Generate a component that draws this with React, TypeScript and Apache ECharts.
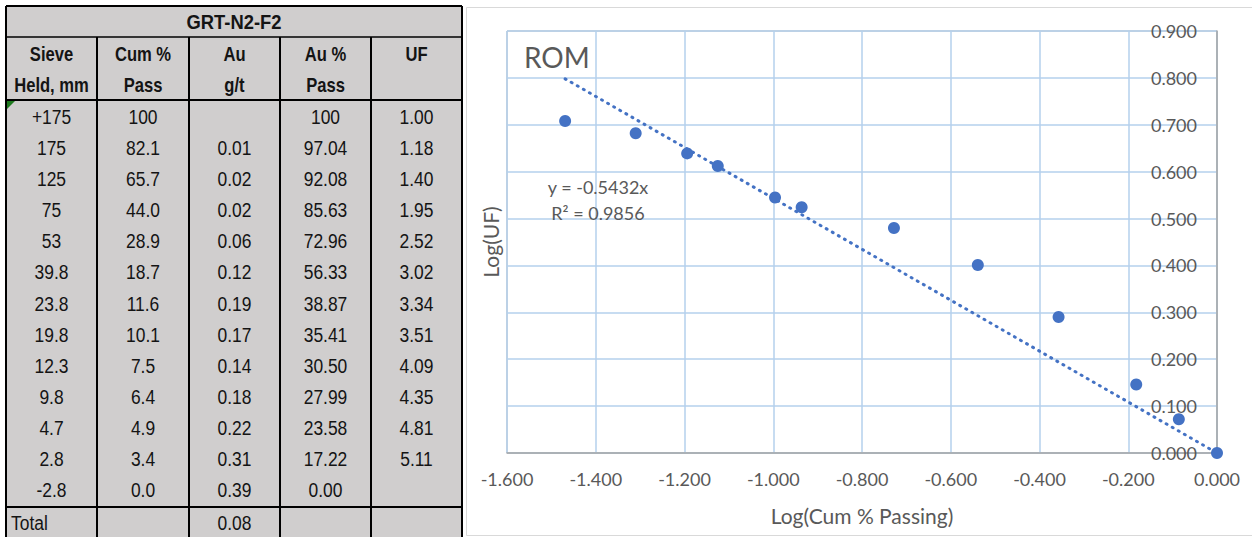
import React, { useEffect, useRef } from "react";
import * as echarts from "echarts";

// ---------- Table data (GRT-N2-F2) ----------
const tableTitle = "GRT-N2-F2";
const headerTop = ["Sieve", "Cum %", "Au", "Au %", "UF"];
const headerBottom = ["Held, mm", "Pass", "g/t", "Pass", ""];
const sieveHeld = ["+175", "175", "125", "75", "53", "39.8", "23.8", "19.8", "12.3", "9.8", "4.7", "2.8", "-2.8"];
const cumPass = ["100", "82.1", "65.7", "44.0", "28.9", "18.7", "11.6", "10.1", "7.5", "6.4", "4.9", "3.4", "0.0"];
const auGrade = ["", "0.01", "0.02", "0.02", "0.06", "0.12", "0.19", "0.17", "0.14", "0.18", "0.22", "0.31", "0.39"];
const auPass = ["100", "97.04", "92.08", "85.63", "72.96", "56.33", "38.87", "35.41", "30.50", "27.99", "23.58", "17.22", "0.00"];
const ufValues = ["1.00", "1.18", "1.40", "1.95", "2.52", "3.02", "3.34", "3.51", "4.09", "4.35", "4.81", "5.11", ""];
const totalLabel = "Total";
const totalAu = "0.08";

// ---------- Chart data (ROM) ----------
const logCumPassing = [0.0, -0.086, -0.182, -0.357, -0.539, -0.728, -0.936, -0.996, -1.125, -1.194, -1.310, -1.469];
const logUF = [0.0, 0.072, 0.146, 0.290, 0.401, 0.480, 0.524, 0.545, 0.612, 0.639, 0.682, 0.708];
const trendX = [-1.469, 0.0];
const trendY = [0.798, 0.0];
const chartTitle = "ROM";
const equationText = "y = -0.5432x";
const r2Text = "R² = 0.9856";
const xAxisTitle = "Log(Cum % Passing)";
const yAxisTitle = "Log(UF)";

const TABLE_FONT = "'Liberation Sans', Arial, sans-serif";
const CHART_FONT = "Lato, 'Open Sans', 'Liberation Sans', sans-serif";

function buildTable(): any[] {
  const els: any[] = [];
  const colX = [6, 97, 189, 280, 371, 462];
  const top = 6;
  const titleBottom = 37;
  const headerBottomY = 100;
  const rowStart = 101;
  const rowH = 31.15;
  const totalTop = 507;
  const bottom = 540;
  const txt = "#141414";
  const sx = 0.83;

  els.push({ type: "rect", shape: { x: colX[0], y: top, width: colX[5] - colX[0], height: bottom - top }, style: { fill: "#d0cece" }, z: 1 });

  // title
  els.push({
    type: "text", x: (colX[0] + colX[5]) / 2, y: (top + titleBottom) / 2 + 1, scaleX: 0.92, z: 5,
    style: { text: tableTitle, align: "center", verticalAlign: "middle", font: `bold 20px ${TABLE_FONT}`, fill: txt },
  });
  // headers
  for (let c = 0; c < 5; c++) {
    const cx = (colX[c] + colX[c + 1]) / 2;
    els.push({ type: "text", x: cx, y: 54, scaleX: sx, z: 5, style: { text: headerTop[c], align: "center", verticalAlign: "middle", font: `bold 20px ${TABLE_FONT}`, fill: txt } });
    if (headerBottom[c]) {
      els.push({ type: "text", x: cx, y: 85, scaleX: sx, z: 5, style: { text: headerBottom[c], align: "center", verticalAlign: "middle", font: `bold 20px ${TABLE_FONT}`, fill: txt } });
    }
  }
  // data rows
  const cols = [sieveHeld, cumPass, auGrade, auPass, ufValues];
  for (let r = 0; r < sieveHeld.length; r++) {
    const cy = rowStart + rowH * (r + 0.5);
    for (let c = 0; c < 5; c++) {
      const v = cols[c][r];
      if (!v) continue;
      els.push({ type: "text", x: (colX[c] + colX[c + 1]) / 2, y: cy, scaleX: sx, z: 5, style: { text: v, align: "center", verticalAlign: "middle", font: `21px ${TABLE_FONT}`, fill: txt } });
    }
  }
  // total row
  els.push({ type: "text", x: 11, y: 523, scaleX: sx, z: 5, style: { text: totalLabel, align: "left", verticalAlign: "middle", font: `21px ${TABLE_FONT}`, fill: txt } });
  els.push({ type: "text", x: (colX[2] + colX[3]) / 2, y: 523, scaleX: sx, z: 5, style: { text: totalAu, align: "center", verticalAlign: "middle", font: `21px ${TABLE_FONT}`, fill: txt } });

  // borders
  const line = (x1: number, y1: number, x2: number, y2: number, w: number) =>
    els.push({ type: "line", shape: { x1, y1, x2, y2 }, style: { stroke: "#000", lineWidth: w }, z: 6 });
  line(colX[0], top, colX[5], top, 2);
  line(colX[0], titleBottom, colX[5], titleBottom, 1.5);
  line(colX[0], headerBottomY, colX[5], headerBottomY, 2);
  line(colX[0], totalTop, colX[5], totalTop, 2);
  line(colX[0], top, colX[0], bottom, 2);
  line(colX[5], top, colX[5], bottom, 2);
  for (let c = 1; c < 5; c++) line(colX[c], titleBottom, colX[c], bottom, 2);

  // green indicator
  els.push({ type: "polygon", shape: { points: [[7, 101], [15, 101], [7, 109]] }, style: { fill: "#1f7a1f" }, z: 7 });
  return els;
}

export default function App() {
  const ref = useRef<HTMLDivElement>(null);
  useEffect(() => {
    if (!ref.current) return;
    const chart = echarts.init(ref.current, undefined, { renderer: "svg" });
    const scatterData = logCumPassing.map((x, i) => [x, logUF[i]]);
    const trendData = trendX.map((x, i) => [x, trendY[i]]);
    const graphics: any[] = [
      // chart frame
      { type: "rect", shape: { x: 466.5, y: 7.5, width: 790, height: 528 }, style: { fill: "none", stroke: "#d9d9d9", lineWidth: 1 }, z: 0 },
      ...buildTable(),
      { type: "text", x: 524, y: 57, z: 10, style: { text: chartTitle, align: "left", verticalAlign: "middle", font: `28px ${CHART_FONT}`, fill: "#595959" } },
      { type: "text", x: 598, y: 187, z: 10, style: { text: equationText, align: "center", verticalAlign: "middle", font: `18px ${CHART_FONT}`, fill: "#595959" } },
      { type: "text", x: 598, y: 213, z: 10, style: { text: r2Text, align: "center", verticalAlign: "middle", font: `18px ${CHART_FONT}`, fill: "#595959" } },
      { type: "text", x: 490, y: 242, rotation: Math.PI / 2, z: 10, style: { text: yAxisTitle, align: "center", verticalAlign: "middle", font: `21px ${CHART_FONT}`, fill: "#595959" } },
    ];
    chart.setOption({
      animation: false,
      backgroundColor: "#ffffff",
      grid: { left: 507, top: 31, width: 710, height: 422, show: true, borderColor: "#a6a6a6", borderWidth: 1, backgroundColor: "transparent" },
      xAxis: {
        type: "value", min: -1.6, max: 0, interval: 0.2, position: "bottom",
        axisLine: { show: true, onZero: false, lineStyle: { color: "#a6a6a6", width: 1.5 } },
        axisTick: { show: false },
        splitLine: { show: true, lineStyle: { color: "#b4d0ec", width: 1.5 } },
        axisLabel: { margin: 17, color: "#595959", fontSize: 18, fontFamily: CHART_FONT, formatter: (v: number) => v.toFixed(3) },
        name: xAxisTitle, nameLocation: "middle", nameGap: 52,
        nameTextStyle: { color: "#595959", fontSize: 21, fontFamily: CHART_FONT },
      },
      yAxis: {
        type: "value", min: 0, max: 0.9, interval: 0.1, position: "right",
        axisLine: { show: true, onZero: false, lineStyle: { color: "#a6a6a6", width: 1.5 } },
        axisTick: { show: false },
        splitLine: { show: true, lineStyle: { color: "#b4d0ec", width: 1.5 } },
        axisLabel: { inside: true, margin: 20, color: "#595959", fontSize: 18, fontFamily: CHART_FONT, formatter: (v: number) => v.toFixed(3) },
      },
      graphic: graphics,
      series: [
        {
          type: "line", data: trendData, showSymbol: false, symbol: "none", silent: true, z: 3,
          lineStyle: { color: "#4472c4", width: 3, type: [1, 6], cap: "round" },
        },
        {
          type: "scatter", data: scatterData, symbol: "circle", symbolSize: 12, z: 4,
          itemStyle: { color: "#4472c4", opacity: 1 },
        },
      ],
    });
    return () => chart.dispose();
  }, []);
  return <div ref={ref} style={{ position: "fixed", left: 0, top: 0, width: 1252, height: 537 }} />;
}
